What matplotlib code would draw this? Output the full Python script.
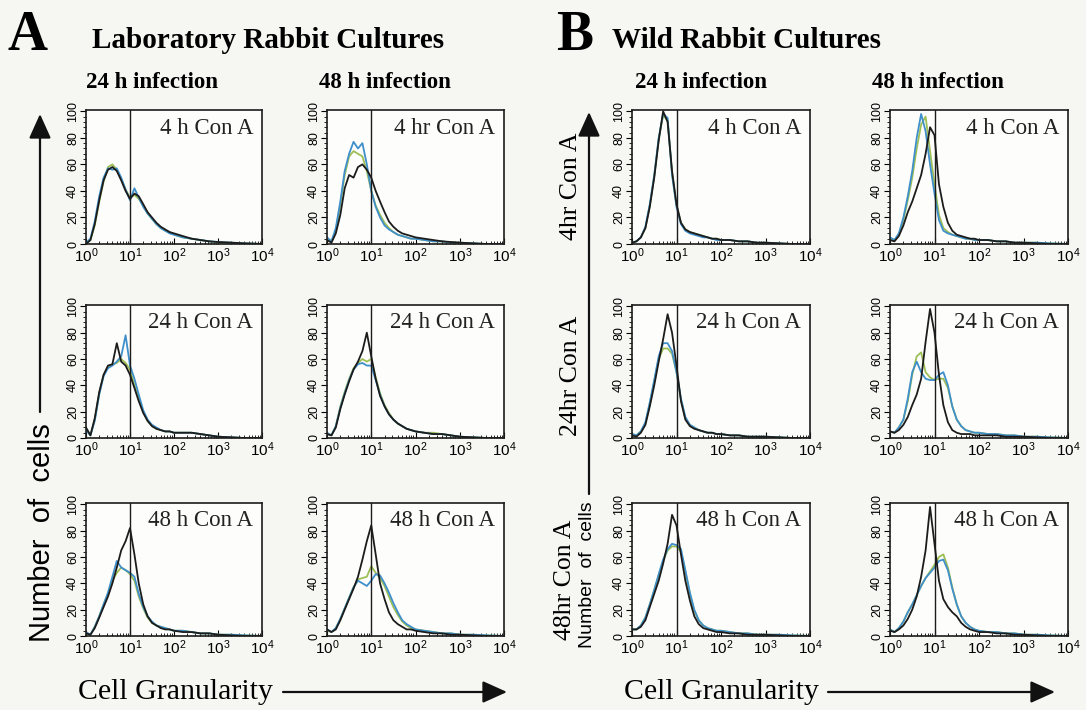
import matplotlib
matplotlib.use("Agg")
import matplotlib.pyplot as plt
from matplotlib.patches import FancyArrowPatch
from matplotlib.ticker import FixedLocator, MultipleLocator, NullFormatter

# granularity channel (log scale) shared by every histogram
gran = [1.0, 1.26, 1.58, 2.0, 2.51, 3.16, 3.98, 5.01, 6.31, 7.94, 10.0, 12.6,
        15.8, 20.0, 25.1, 31.6, 39.8, 50.1, 63.1, 79.4, 100, 158, 251, 398,
        631, 1000, 2000, 3980, 10000]

# A: laboratory rabbit cultures  (row = Con A time, col = infection time)
a11_black = [0, 3, 15, 33, 48, 56, 58, 55, 48, 40, 34, 38, 36, 30, 24, 20, 16, 13, 11, 9, 8, 6, 4, 3, 2, 1.5, 1, 0.5, 0]
a11_blue = [1, 4, 17, 36, 50, 57, 56, 57, 50, 41, 33, 42, 35, 28, 23, 19, 15, 12, 10, 8, 7, 5, 4, 3, 2, 1.5, 1, 0.5, 0]
a11_green = [0, 3, 14, 32, 47, 58, 60, 56, 49, 41, 35, 37, 34, 29, 23, 19, 15, 12, 10, 9, 7, 5, 4, 3, 2, 1, 1, 0.5, 0]

a12_black = [3, 1, 8, 22, 42, 52, 50, 58, 60, 56, 50, 40, 32, 24, 17, 13, 10, 8, 7, 6, 5, 4, 3, 2, 1.5, 1, 0.5, 0, 0]
a12_blue = [5, 2, 12, 32, 55, 68, 77, 72, 76, 60, 40, 28, 20, 14, 11, 9, 7, 6, 5, 4, 4, 3, 2, 2, 1, 1, 0.5, 0, 0]
a12_green = [4, 2, 10, 30, 52, 66, 70, 68, 66, 55, 40, 29, 22, 16, 12, 9, 7, 6, 5, 4, 4, 3, 2, 2, 1, 1, 0.5, 0, 0]

a21_black = [8, 2, 15, 35, 48, 55, 56, 72, 58, 55, 48, 38, 28, 19, 13, 9, 7, 6, 5, 5, 4, 4, 4, 3, 2, 1, 0.5, 0, 0]
a21_blue = [6, 2, 13, 33, 47, 53, 55, 58, 62, 78, 55, 45, 33, 21, 14, 10, 8, 6, 5, 5, 4, 4, 4, 3, 2, 1, 0.5, 0, 0]
a21_green = [7, 2, 14, 34, 48, 54, 56, 57, 60, 57, 52, 40, 30, 20, 13, 9, 7, 6, 5, 5, 4, 4, 4, 3, 2, 1, 0.5, 0, 0]

a22_black = [3, 2, 8, 22, 33, 43, 52, 58, 66, 80, 62, 45, 32, 24, 18, 14, 11, 9, 7, 6, 5, 4, 3, 3, 2, 1, 0.5, 0, 0]
a22_blue = [4, 2, 9, 23, 34, 44, 52, 56, 57, 55, 55, 44, 33, 24, 18, 14, 11, 9, 7, 6, 5, 4, 3, 3, 2, 1, 0.5, 0, 0]
a22_green = [3, 2, 9, 24, 35, 45, 53, 57, 60, 58, 60, 46, 34, 25, 19, 14, 11, 9, 7, 6, 5, 4, 4, 3, 2, 1, 0.5, 0, 0]

a31_black = [2, 1, 6, 14, 22, 30, 40, 52, 65, 72, 82, 62, 40, 24, 15, 10, 8, 6, 5, 5, 4, 3, 3, 2, 2, 1, 0.5, 0, 0]
a31_blue = [3, 1, 7, 15, 24, 33, 45, 57, 52, 50, 48, 45, 32, 22, 15, 11, 8, 7, 6, 5, 4, 4, 3, 2, 2, 1, 1, 0.5, 0]
a31_green = [2, 1, 7, 15, 24, 32, 42, 48, 52, 50, 47, 42, 30, 21, 14, 10, 8, 7, 6, 5, 4, 4, 3, 2, 2, 1, 1, 0.5, 0]

a32_black = [5, 3, 5, 12, 20, 28, 36, 45, 58, 72, 84, 62, 40, 28, 18, 12, 9, 7, 5, 5, 4, 3, 2, 2, 1, 1, 0.5, 0, 0]
a32_blue = [5, 3, 6, 13, 21, 29, 37, 42, 40, 38, 42, 47, 46, 40, 33, 25, 18, 12, 9, 7, 5, 4, 3, 2, 2, 1, 1, 0.5, 0]
a32_green = [4, 3, 6, 13, 21, 29, 37, 43, 44, 45, 53, 48, 44, 38, 30, 22, 16, 11, 8, 6, 5, 4, 3, 2, 2, 1, 1, 0.5, 0]

# B: wild rabbit cultures
b11_black = [1, 2, 5, 12, 28, 50, 78, 100, 92, 55, 30, 16, 11, 9, 8, 7, 6, 5, 4, 4, 3, 3, 2, 2, 1, 1, 0.5, 0, 0]
b11_blue = [1, 2, 5, 13, 30, 52, 80, 98, 95, 52, 28, 15, 10, 8, 7, 6, 5, 5, 4, 3, 3, 3, 2, 2, 1, 1, 0.5, 0, 0]
b11_green = [1, 2, 5, 12, 29, 51, 79, 97, 93, 54, 29, 16, 11, 9, 8, 7, 6, 5, 4, 4, 3, 3, 2, 2, 1, 1, 0.5, 0, 0]

b12_black = [3, 2, 6, 14, 24, 32, 42, 52, 68, 88, 82, 45, 28, 16, 10, 7, 6, 5, 4, 4, 3, 3, 2, 2, 1, 1, 0.5, 0, 0]
b12_blue = [5, 3, 8, 20, 36, 55, 80, 98, 85, 60, 38, 18, 10, 8, 7, 6, 5, 4, 4, 3, 3, 3, 2, 2, 1, 1, 1, 0.5, 0]
b12_green = [4, 3, 7, 18, 33, 50, 72, 90, 96, 70, 45, 22, 12, 9, 7, 6, 5, 4, 4, 3, 3, 3, 2, 2, 1, 1, 1, 0.5, 0]

b21_black = [2, 1, 4, 10, 24, 40, 58, 75, 94, 80, 55, 28, 14, 9, 7, 6, 5, 4, 4, 3, 3, 2, 2, 1, 1, 1, 0.5, 0, 0]
b21_blue = [3, 2, 5, 12, 27, 44, 62, 72, 72, 66, 50, 30, 16, 10, 8, 6, 5, 4, 4, 3, 3, 2, 2, 1, 1, 1, 0.5, 0, 0]
b21_green = [3, 2, 5, 11, 26, 43, 60, 68, 68, 64, 50, 29, 15, 10, 8, 6, 5, 4, 4, 3, 3, 2, 2, 1, 1, 1, 0.5, 0, 0]

b22_black = [5, 4, 6, 10, 16, 25, 33, 45, 73, 98, 80, 48, 25, 12, 6, 4, 3, 3, 3, 2, 2, 2, 2, 1, 1, 1, 0.5, 0, 0]
b22_blue = [5, 4, 8, 14, 30, 50, 58, 50, 45, 44, 44, 48, 50, 40, 24, 14, 9, 6, 5, 4, 4, 3, 3, 2, 2, 1, 1, 0.5, 0]
b22_green = [5, 4, 8, 14, 28, 48, 62, 65, 50, 46, 44, 45, 45, 38, 24, 14, 9, 6, 5, 4, 4, 3, 3, 2, 2, 1, 1, 0.5, 0]

b31_black = [5, 5, 7, 12, 22, 32, 42, 55, 70, 92, 84, 62, 42, 27, 15, 9, 6, 5, 4, 3, 3, 2, 2, 1, 1, 1, 0.5, 0, 0]
b31_blue = [5, 5, 8, 14, 24, 35, 47, 58, 66, 70, 69, 66, 50, 33, 20, 12, 8, 6, 5, 4, 4, 3, 2, 2, 1, 1, 1, 0.5, 0]
b31_green = [5, 5, 8, 14, 24, 35, 46, 57, 65, 68, 68, 64, 49, 32, 19, 12, 8, 6, 5, 4, 4, 3, 2, 2, 1, 1, 1, 0.5, 0]

b32_black = [4, 3, 5, 8, 13, 20, 30, 45, 65, 98, 70, 42, 28, 22, 18, 15, 10, 7, 5, 4, 3, 3, 2, 2, 1, 1, 0.5, 0, 0]
b32_blue = [5, 3, 6, 11, 18, 24, 31, 38, 44, 48, 52, 57, 58, 50, 36, 24, 15, 10, 7, 5, 4, 3, 3, 2, 2, 1, 1, 0.5, 0]
b32_green = [5, 3, 6, 11, 18, 24, 31, 38, 44, 49, 54, 60, 62, 52, 37, 24, 15, 10, 7, 5, 4, 3, 3, 2, 2, 1, 1, 0.5, 0]

a_labels = [["4 h Con A", "4 hr Con A"], ["24 h Con A", "24 h Con A"], ["48 h Con A", "48 h Con A"]]
b_labels = [["4 h Con A", "4 h Con A"], ["24 h Con A", "24 h Con A"], ["48 h Con A", "48 h Con A"]]
a_curves = [[(a11_black, a11_blue, a11_green), (a12_black, a12_blue, a12_green)],
            [(a21_black, a21_blue, a21_green), (a22_black, a22_blue, a22_green)],
            [(a31_black, a31_blue, a31_green), (a32_black, a32_blue, a32_green)]]
b_curves = [[(b11_black, b11_blue, b11_green), (b12_black, b12_blue, b12_green)],
            [(b21_black, b21_blue, b21_green), (b22_black, b22_blue, b22_green)],
            [(b31_black, b31_blue, b31_green), (b32_black, b32_blue, b32_green)]]
x_ticks = [1, 10, 100, 1000, 10000]
x_ticklabels = [r"$\mathregular{10^0}$", r"$\mathregular{10^1}$", r"$\mathregular{10^2}$",
                r"$\mathregular{10^3}$", r"$\mathregular{10^4}$"]
b_row_titles = ["4hr Con A", "24hr Con A", "48hr Con A"]

SERIF = ["Liberation Serif", "DejaVu Serif"]
SANS = ["Liberation Sans", "DejaVu Sans"]
plt.rcParams["font.family"] = SANS
plt.rcParams["mathtext.default"] = "regular"

W, H = 1086, 710
fig = plt.figure(figsize=(W / 100, H / 100), dpi=100, facecolor="#f6f6f3")


def fx(x):
    return x / W


def fy(y):
    return 1 - y / H


cols_a = [(86, 262), (327, 504)]
cols_b = [(632, 810), (890, 1068)]
rows_px = [(110, 244), (305, 438), (503, 636)]


def panel(x0, x1, y0, y1, curves, label):
    ax = fig.add_axes([fx(x0), fy(y1), (x1 - x0) / W, (y1 - y0) / H])
    ax.set_facecolor("#fdfdfc")
    k, b, g = curves
    ax.plot(gran, g, color="#9dbf55", lw=1.3)
    ax.plot(gran, b, color="#3f8fca", lw=1.3)
    ax.plot(gran, k, color="#1c1c1c", lw=1.3)
    ax.axvline(10, color="#1c1c1c", lw=1.0)
    ax.set_xscale("log")
    ax.set_xlim(1, 10000)
    ax.set_ylim(0, 101)
    ax.xaxis.set_major_locator(FixedLocator(x_ticks))
    ax.set_xticklabels(x_ticklabels, fontsize=11)
    ax.xaxis.set_minor_locator(FixedLocator([m * d for d in (1, 10, 100, 1000) for m in range(2, 10)]))
    ax.xaxis.set_minor_formatter(NullFormatter())
    ax.yaxis.set_major_locator(MultipleLocator(20))
    ax.yaxis.set_minor_locator(MultipleLocator(4))
    ax.tick_params(axis="x", which="both", direction="in", pad=2)
    ax.tick_params(axis="x", which="major", length=4)
    ax.tick_params(axis="x", which="minor", length=2)
    ax.tick_params(axis="y", which="major", direction="out", length=4, labelsize=9, pad=1)
    ax.tick_params(axis="y", which="minor", direction="out", length=2)
    for t in ax.get_yticklabels():
        t.set_rotation(90)
        t.set_va("center")
    for s in ax.spines.values():
        s.set_linewidth(1.2)
        s.set_color("#1c1c1c")
    ax.text(0.95, 0.865, label, transform=ax.transAxes, ha="right", va="center",
            family=SERIF, fontsize=16.5, color="#222")
    return ax


for r, (y0, y1) in enumerate(rows_px):
    for c, (x0, x1) in enumerate(cols_a):
        panel(x0, x1, y0, y1, a_curves[r][c], a_labels[r][c])
    for c, (x0, x1) in enumerate(cols_b):
        panel(x0, x1, y0, y1, b_curves[r][c], b_labels[r][c])

# headings
fig.text(fx(8), fy(36), "A", family=SERIF, fontsize=40, weight="bold", va="center", ha="left")
fig.text(fx(92), fy(40), "Laboratory Rabbit Cultures", family=SERIF, fontsize=21, weight="bold", va="center")
fig.text(fx(556), fy(36), "B", family=SERIF, fontsize=40, weight="bold", va="center", ha="left")
fig.text(fx(612), fy(40), "Wild Rabbit Cultures", family=SERIF, fontsize=21, weight="bold", va="center")
for xc, txt in ((152, "24 h infection"), (385, "48 h infection"), (701, "24 h infection"), (938, "48 h infection")):
    fig.text(fx(xc), fy(82), txt, family=SERIF, fontsize=16.5, weight="bold", ha="center", va="center")

# axis titles and arrows
arrow = dict(arrowstyle="-|>,head_length=1.0,head_width=0.45", lw=1.6, color="#111", shrinkA=0, shrinkB=0,
             mutation_scale=15)
for xc, a0, a1 in ((175, 283, 507), (722, 828, 1055)):
    fig.text(fx(xc), fy(692), "Cell Granularity", family=SERIF, fontsize=21.5, ha="center", va="center")
    fig.add_artist(FancyArrowPatch((fx(a0), fy(692)), (fx(a1), fy(692)), transform=fig.transFigure, **arrow))

fig.text(fx(42), fy(533), "Number  of  cells", fontsize=21, rotation=90, ha="center", va="center")
fig.add_artist(FancyArrowPatch((fx(40), fy(412)), (fx(40), fy(114)), transform=fig.transFigure, **arrow))

for (xc, yc), txt in zip(((571, 186), (571, 376), (565, 580)), b_row_titles):
    fig.text(fx(xc), fy(yc), txt, family=SERIF, fontsize=18.5, rotation=90, ha="center", va="center")
fig.text(fx(588), fy(575), "Number  of  cells", fontsize=14, rotation=90, ha="center", va="center")
fig.add_artist(FancyArrowPatch((fx(589), fy(494)), (fx(589), fy(112)), transform=fig.transFigure, **arrow))

fig.savefig("out.png", dpi=100, facecolor=fig.get_facecolor())
